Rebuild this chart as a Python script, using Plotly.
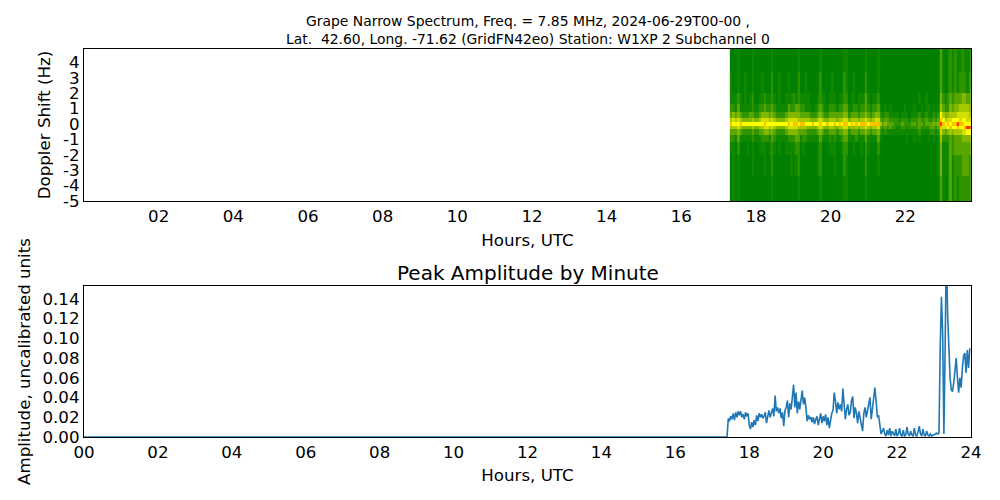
import numpy as np
import plotly.graph_objects as go

# Spectrogram levels, 0 (green) to 9 (red), 100 columns from 17.3 h to 23.76 h; one list per Doppler band
row_edges = [-5, -3.4, -2, -1.2, -0.7, -0.35, -0.1, 0.15, 0.4, 0.8, 1.3, 2, 3.4, 4.87]

band_0 = [0,1,0,1,0,0,0,0,0,0, 0,0,0,0,0,0,0,1,0,0, 0,0,0,0,0,0,0,0,1,0, 0,0,0,0,0,0,0,1,0,0,
          0,0,0,0,0,0,0,1,1,0, 0,0,0,0,0,0,1,0,0,0, 0,0,0,0,0,0,0,0,0,0, 0,0,0,0,0,0,0,0,0,0,
          0,0,0,0,0,0,0,3,1,0, 1,3,1,2,1,2,2,2,2,2]
band_1 = [0,1,0,1,0,0,0,0,0,1, 0,0,0,0,1,0,0,2,0,0, 0,0,0,0,0,1,0,1,2,0, 0,0,0,0,0,0,1,2,0,0,
          0,0,0,1,0,0,0,2,1,0, 0,0,0,0,0,0,2,0,0,0, 0,1,0,0,0,0,0,0,0,0, 0,0,0,0,0,0,0,0,0,0,
          0,0,0,0,0,0,1,4,1,1, 1,3,1,2,2,2,3,3,3,2]
band_2 = [1,1,0,2,0,0,0,1,0,1, 0,0,1,1,1,0,1,2,1,0, 1,0,0,1,1,1,1,2,2,0, 1,0,0,0,0,0,1,2,0,0,
          0,1,1,1,0,0,1,2,2,0, 0,1,0,0,1,0,2,1,0,0, 0,2,0,0,0,0,0,0,0,0, 0,0,0,0,0,0,0,0,0,0,
          0,0,0,0,0,0,1,4,1,1, 1,3,2,3,3,3,3,3,3,3]
band_3 = [2,2,1,3,1,1,1,1,1,2, 1,1,1,2,2,2,1,3,2,1, 1,1,1,1,2,2,2,3,3,1, 2,2,1,1,1,1,1,3,1,1,
          1,2,1,2,1,1,2,3,3,1, 1,1,2,1,1,1,3,1,1,1, 1,3,1,0,0,0,0,0,0,0, 0,0,0,1,0,0,1,0,1,0,
          0,0,1,0,1,0,1,5,2,2, 2,3,2,3,3,3,4,4,4,4]
band_4 = [3,3,3,4,3,2,2,2,2,3, 2,2,3,3,4,4,3,4,3,2, 2,2,2,3,4,4,4,4,3,3, 3,3,2,2,2,2,3,4,3,2,
          2,3,3,3,2,3,3,4,4,2, 3,3,3,2,3,3,4,3,2,3, 3,4,2,1,2,1,1,1,1,1, 1,1,1,1,1,1,1,1,2,1,
          1,1,1,2,2,1,2,6,4,3, 4,5,4,5,5,5,6,6,7,7]
band_5 = [5,5,5,6,5,4,4,4,4,5, 4,4,5,5,6,6,5,6,5,4, 4,4,4,5,6,6,6,6,5,5, 5,5,4,4,4,4,5,6,5,4,
          4,5,5,4,4,5,5,6,6,4, 5,4,5,4,5,5,6,5,4,5, 5,6,3,2,3,2,3,2,2,1, 1,2,2,1,2,2,2,2,3,2,
          2,2,2,3,3,2,3,8,6,6, 7,8,7,7,8,7,7,8,9,9]
band_6 = [8,7,7,7,8,7,7,7,7,7, 7,7,7,7,8,7,7,7,7,7, 7,7,7,7,8,7,8,8,7,8, 8,7,7,7,8,7,7,8,7,7,
          8,7,7,8,7,8,7,8,8,7, 8,7,8,7,8,8,8,7,8,8, 8,8,5,3,4,3,3,3,2,2, 2,3,2,2,2,3,3,2,3,3,
          2,3,3,3,4,3,4,9,8,7, 8,7,8,8,9,8,8,7,7,7]
band_7 = [5,6,5,6,5,4,4,4,4,5, 4,4,5,6,6,6,5,6,5,4, 4,4,4,5,6,6,6,6,5,5, 5,5,5,4,4,4,5,6,5,4,
          4,5,5,5,4,5,5,6,6,4, 5,5,5,4,5,5,6,5,4,5, 6,6,3,2,3,3,2,2,2,2, 1,2,2,2,1,2,2,2,3,2,
          2,3,2,2,3,2,3,8,7,5, 6,6,7,7,7,6,7,7,6,6]
band_8 = [3,4,3,4,3,2,2,2,3,3, 2,2,3,4,4,4,3,4,3,2, 2,2,2,3,4,4,4,4,4,3, 3,3,3,2,2,2,3,4,3,2,
          2,3,3,3,3,3,3,4,4,2, 3,3,3,2,3,3,4,3,2,3, 4,4,2,1,2,2,1,1,1,1, 0,1,1,1,0,1,1,1,2,1,
          1,2,1,1,2,1,2,7,5,4, 4,5,5,5,6,6,6,6,6,5]
band_9 = [2,2,1,3,1,1,1,1,1,2, 1,1,2,2,3,2,2,3,2,1, 1,1,1,1,3,2,2,3,3,2, 2,1,1,1,0,1,2,3,2,1,
          1,2,2,2,1,2,2,3,3,1, 1,2,2,1,2,2,3,2,1,2, 2,3,1,0,1,0,1,0,0,0, 0,0,1,0,0,0,1,0,0,1,
          0,1,1,0,1,0,1,5,3,2, 2,4,3,4,4,5,5,5,5,4]
band_10 = [1,1,1,2,1,0,1,0,1,2, 0,0,1,1,2,1,1,2,1,0, 1,0,0,1,1,1,2,1,2,1, 1,1,1,0,0,0,1,2,1,1,
           0,1,1,1,0,1,1,2,2,0, 1,1,0,1,1,1,3,1,0,1, 1,2,0,0,0,0,0,0,0,0, 0,0,0,0,0,0,0,0,1,0,
           0,1,0,0,0,0,0,4,2,1, 2,3,2,3,3,3,4,4,3,3]
band_11 = [1,0,0,1,0,0,1,0,0,1, 0,0,0,1,0,0,0,2,0,0, 1,0,0,0,1,0,0,0,2,0, 0,1,0,0,0,0,0,2,0,0,
           0,0,1,0,0,0,0,2,1,0, 0,1,0,0,0,0,2,0,0,0, 0,1,0,0,0,0,0,0,0,0, 0,0,0,0,0,0,0,0,0,0,
           0,0,0,0,0,0,0,3,1,0, 1,2,1,2,1,2,2,2,1,2]
band_12 = [0,0,0,1,0,0,0,0,0,1, 0,0,0,0,0,0,0,1,0,0, 0,0,0,0,0,0,0,0,1,0, 0,0,0,0,0,0,0,1,0,0,
           0,0,0,0,0,0,0,1,1,0, 0,0,0,0,0,0,1,0,0,0, 0,1,0,0,0,0,0,0,0,0, 0,0,0,0,0,0,0,0,0,0,
           0,0,0,0,0,0,0,3,1,0, 1,2,1,2,1,1,2,1,1,1]

# Peak amplitude, one reading per 2 minutes from 17:24 on, flat zero before that
quiet_hours = [0, 17.38]
quiet_amp = [0, 0]
amp_17 = [.001, .019, .016, .021, .018, .024, .017, .025, .02, .026, .022, .026, .02, .023, .018, .025, .021, .024]
amp_18 = [.012, .008, .015, .01, .017, .012, .022, .016, .024, .02, .023, .019, .021, .025, .014, .022, .027, .02,
          .025, .029, .021, .042, .026, .03, .024, .029, .019, .025, .011, .027]
amp_19 = [.03, .037, .02, .034, .028, .041, .053, .03, .045, .024, .036, .028, .039, .047, .033, .04, .03, .016,
          .022, .018, .02, .015, .02, .013, .018, .021, .012, .019, .024, .014]
amp_20 = [.021, .016, .023, .012, .02, .009, .019, .024, .027, .045, .036, .024, .035, .028, .033, .026, .049, .03,
          .018, .028, .033, .022, .025, .037, .041, .019, .03, .024, .014, .026]
amp_21 = [.019, .012, .006, .024, .03, .02, .028, .033, .04, .018, .03, .044, .05, .036, .02, .022, .011, .003,
          .006, .009, .003, .001, .007, .002, .009, .001, .006, .003, .001, .008]
amp_22 = [.001, .003, .009, .002, .001, .007, .001, .002, .01, .003, .001, .006, .002, .001, .009, .002, .001, .005,
          .011, .003, .001, .008, .002, .001, .006, .002, .001, .003, .001, .002]
amp_23 = [.002, .003, .004, .003, .004, .09, .142, .105, .003, .09, .2, .125, .09, .06, .048, .046, .055, .07,
          .08, .06, .045, .06, .05, .07, .082, .085, .065, .088, .07, .09]

top_xticks = [2, 4, 6, 8, 10, 12, 14, 16, 18, 20, 22]
top_xlabels = ["02", "04", "06", "08", "10", "12", "14", "16", "18", "20", "22"]
top_yticks = [-5, -4, -3, -2, -1, 0, 1, 2, 3, 4]
bottom_xticks = [0, 2, 4, 6, 8, 10, 12, 14, 16, 18, 20, 22, 24]
bottom_xlabels = ["00", "02", "04", "06", "08", "10", "12", "14", "16", "18", "20", "22", "24"]
bottom_yticks = [0, 0.02, 0.04, 0.06, 0.08, 0.10, 0.12, 0.14]
bottom_ylabels = ["0.00", "0.02", "0.04", "0.06", "0.08", "0.10", "0.12", "0.14"]

FONT = "DejaVu Sans"

z = [band_0, band_1, band_2, band_3, band_4, band_5, band_6, band_7, band_8, band_9, band_10, band_11, band_12]
col_edges = np.linspace(17.3, 23.76, len(band_0) + 1)
amp = amp_17 + amp_18 + amp_19 + amp_20 + amp_21 + amp_22 + amp_23
hours = 17.4 + np.arange(len(amp)) / 30

fig = go.Figure()
fig.add_trace(go.Heatmap(
    x=col_edges, y=row_edges, z=z, zmin=0, zmax=9, showscale=False,
    colorscale=[[0, "#007f00"], [1 / 9, "#0f8800"], [2 / 9, "#2e9400"], [3 / 9, "#5aa600"], [4 / 9, "#84b800"],
                [5 / 9, "#a8c800"], [6 / 9, "#d4e000"], [7 / 9, "#ffff00"], [8 / 9, "#ffc000"], [1, "#ff3000"]],
    xaxis="x", yaxis="y"))
fig.add_trace(go.Scatter(x=quiet_hours + list(hours), y=quiet_amp + amp, mode="lines",
                         line=dict(color="#1f77b4", width=1.6), xaxis="x2", yaxis="y2"))

# the page adds an 8px body margin, so the domains are shifted up and left by that much
axis_style = dict(showline=True, mirror=True, linecolor="black", linewidth=1.3, showgrid=False, zeroline=False,
                  ticks="", automargin=False, tickfont=dict(family=FONT, size=16.67, color="black"))
fig.update_layout(
    width=1000, height=500, margin=dict(l=0, r=0, t=0, b=0), showlegend=False,
    plot_bgcolor="white", paper_bgcolor="white", font=dict(family=FONT, color="black"),
    xaxis=dict(domain=[0.076, 0.963], range=[0, 23.76], tickvals=top_xticks, ticktext=top_xlabels,
               anchor="y", title=dict(text="Hours, UTC", font=dict(size=16.67), standoff=9), **axis_style),
    yaxis=dict(domain=[0.614, 0.918], range=[-5, 4.87], tickvals=top_yticks, ticktext=[str(t) for t in top_yticks],
               anchor="x", title=dict(text="Doppler Shift (Hz)", font=dict(size=16.67), standoff=8), **axis_style),
    xaxis2=dict(domain=[0.076, 0.963], range=[0, 24], tickvals=bottom_xticks, ticktext=bottom_xlabels,
                anchor="y2", title=dict(text="Hours, UTC", font=dict(size=16.67), standoff=8), **axis_style),
    yaxis2=dict(domain=[0.142, 0.444], range=[0, 0.153], tickvals=bottom_yticks, ticktext=bottom_ylabels,
                anchor="x2", title=dict(text="Amplitude, uncalibrated units", font=dict(size=16.67), standoff=7),
                **axis_style),
    annotations=[
        dict(text="Grape Narrow Spectrum, Freq. = 7.85 MHz, 2024-06-29T00-00 ,<br>"
                  "Lat.  42.60, Long. -71.62 (GridFN42eo) Station: W1XP 2 Subchannel 0",
             x=0.5195, y=0.918, xref="paper", yref="paper", xanchor="center", yanchor="bottom", showarrow=False,
             font=dict(family=FONT, size=13.9, color="black")),
        dict(text="Peak Amplitude by Minute", x=0.5195, y=0.441, xref="paper", yref="paper",
             xanchor="center", yanchor="bottom", showarrow=False, font=dict(family=FONT, size=20, color="black")),
    ],
)

fig.write_html("out.html")
